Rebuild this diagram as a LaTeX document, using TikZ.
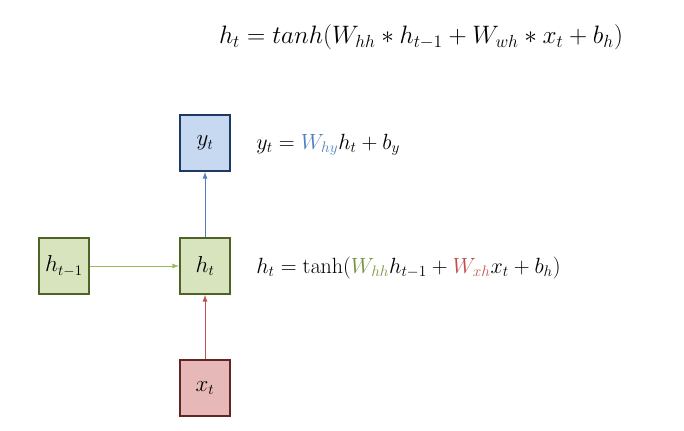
\documentclass[tikz,border=0pt]{standalone}
\usepackage{amsmath,amssymb}
\usepackage{xcolor}
\usepackage{tikz}

\definecolor{ybox}{HTML}{C6D9F1}
\definecolor{yline}{HTML}{1F3864}
\definecolor{yarrow}{HTML}{4F81BD}
\definecolor{hbox}{HTML}{D7E4BD}
\definecolor{hline}{HTML}{4F6228}
\definecolor{harrow}{HTML}{9BBB59}
\definecolor{htext}{HTML}{77933C}
\definecolor{xbox}{HTML}{E6B9B8}
\definecolor{xline}{HTML}{632523}
\definecolor{xarrow}{HTML}{C0504D}

\tikzset{
    cell/.style={draw, line width=1.5pt, minimum width=37.5pt, minimum height=42pt, inner sep=0pt, font=\fontsize{16}{19}\selectfont},
    link/.style={-latex, line width=0.7pt},
    eq/.style={anchor=west, inner sep=0pt, scale=0.955, font=\fontsize{17.28}{20}\selectfont}
}

\begin{document}
\begin{tikzpicture}[x=0.75pt, y=0.75pt]
    \useasboundingbox (0,0) rectangle (684,430);

    % --- top formula ---
    \node[scale=1.094, font=\fontsize{17.28}{20}\selectfont] (top) at (421,393) {$h_t = tanh(W_{hh} * h_{t-1} + W_{wh} * x_t + b_h)$};

    % --- cells ---
    \node[cell, fill=ybox, draw=yline] (y) at (205,287) {$y_t$};
    \node[cell, fill=hbox, draw=hline] (hprev) at (64,164) {$h_{t-1}$};
    \node[cell, fill=hbox, draw=hline] (h) at (205,164) {$h_t$};
    \node[cell, fill=xbox, draw=xline] (x) at (205,42) {$x_t$};

    % --- arrows ---
    \draw[link, draw=harrow] (hprev) -- (h);
    \draw[link, draw=yarrow] (h) -- (y);
    \draw[link, draw=xarrow] (x) -- (h);

    % --- equations ---
    \node[eq] (yeq) at (256,285) {$y_t = {\color{yarrow}W_{hy}} h_t + b_y$};
    \node[eq] (heq) at (256,162) {$h_t = \tanh({\color{htext}W_{hh}} h_{t-1} + {\color{xarrow}W_{xh}} x_t + b_h)$};
\end{tikzpicture}
\end{document}
